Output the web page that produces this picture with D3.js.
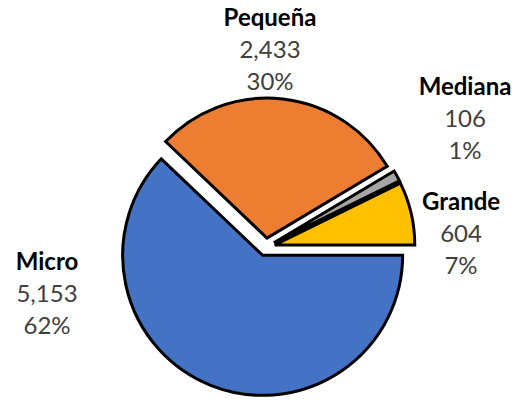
<!DOCTYPE html>
<html>
<head>
<meta charset="utf-8">
<script src="https://cdn.jsdelivr.net/npm/d3@7"></script>
<style>
  body { margin: 0; background: #fff; }
  text { font-family: Lato, "Open Sans", sans-serif; fill: #404040; }
</style>
</head>
<body>
<svg id="chart" width="521" height="401"></svg>
<script>
// Data
var categories = ["Micro", "Pequeña", "Mediana", "Grande"];
var values = [5153, 2433, 106, 604];
var percents = [62, 30, 1, 7];
var colors = ["#4472C4", "#ED7D31", "#A5A5A5", "#FFC000"];

// layout
var width = 521, height = 401;
var cx = 266, cy = 247, radius = 140, explode = 9;
// label anchor (x, top line y) for each slice
var labelPos = [[47, 262], [270, 18], [465, 87], [461, 202]];
var lineGap = 32;

var svg = d3.select("#chart");

var pie = d3.pie()
    .sort(null)
    .startAngle(Math.PI / 2)
    .endAngle(Math.PI / 2 + 2 * Math.PI);

var arc = d3.arc().innerRadius(0).outerRadius(radius);

var arcs = pie(values);

var g = svg.append("g").attr("transform", "translate(" + cx + "," + cy + ")");

g.selectAll("path")
    .data(arcs)
    .enter()
    .append("path")
    .attr("d", arc)
    .attr("transform", function(d) {
        var a = (d.startAngle + d.endAngle) / 2;
        return "translate(" + (Math.sin(a) * explode) + "," + (-Math.cos(a) * explode) + ")";
    })
    .style("fill", function(d, i) { return colors[i]; })
    .style("stroke", "#000")
    .style("stroke-width", 3)
    .style("stroke-linejoin", "miter");

// labels
var labels = svg.selectAll("g.label")
    .data(categories)
    .enter()
    .append("g")
    .attr("class", "label")
    .attr("transform", function(d, i) { return "translate(" + labelPos[i][0] + "," + labelPos[i][1] + ")"; });

labels.append("text")
    .attr("text-anchor", "middle")
    .attr("dy", "0.35em")
    .style("font-size", "24px")
    .style("font-weight", "bold")
    .style("fill", "#000")
    .text(function(d) { return d; });

labels.append("text")
    .attr("text-anchor", "middle")
    .attr("y", lineGap)
    .attr("dy", "0.35em")
    .style("font-size", "24px")
    .text(function(d, i) { return d3.format(",")(values[i]); });

labels.append("text")
    .attr("text-anchor", "middle")
    .attr("y", lineGap * 2)
    .attr("dy", "0.35em")
    .style("font-size", "24px")
    .text(function(d, i) { return percents[i] + "%"; });
</script>
</body>
</html>
